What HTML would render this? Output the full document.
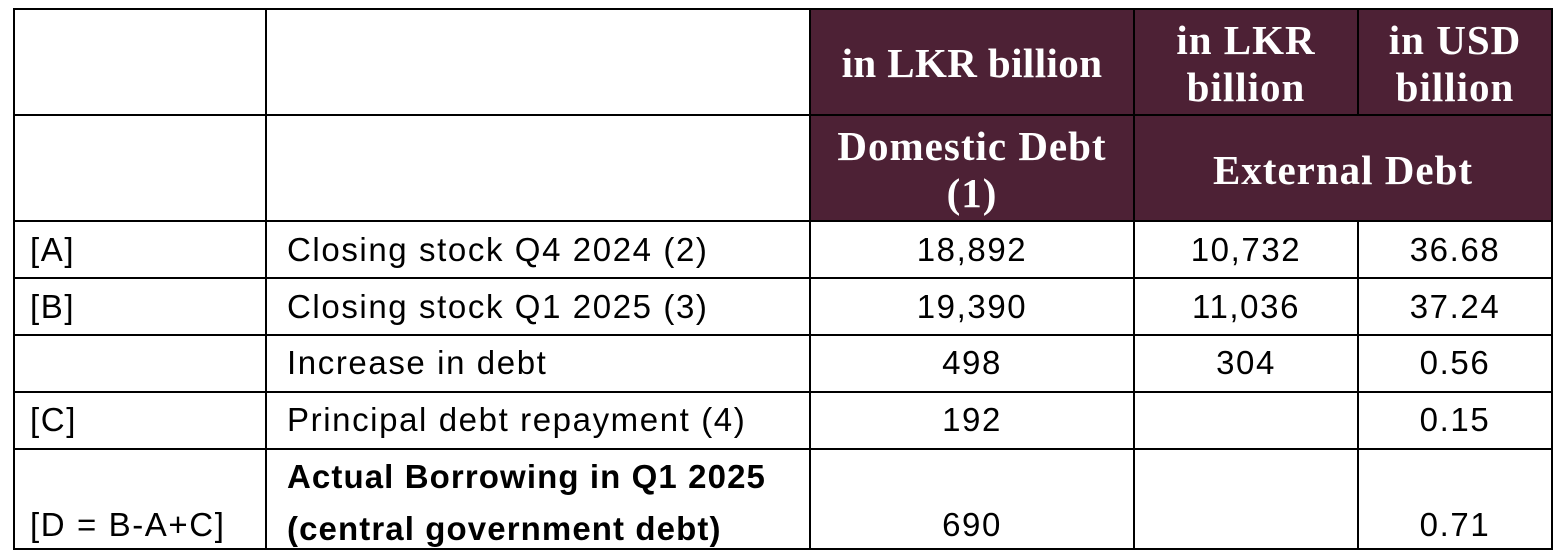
<!DOCTYPE html>
<html><head><style>
body{margin:0;width:1564px;height:558px;background:#fff;position:relative;overflow:hidden;font-family:"Liberation Sans",sans-serif;}
.h{position:absolute;background:#000;height:2px}
.v{position:absolute;background:#000;width:2px}
.bg{position:absolute;background:#4d2135}
.t{position:absolute;font-size:33px;letter-spacing:1.6px;color:#000;line-height:36px;white-space:nowrap}
.c{text-align:center}
.s{position:absolute;font-family:"Liberation Serif",serif;font-weight:bold;color:#fff;font-size:41px;letter-spacing:1px;line-height:47px;text-align:center;white-space:nowrap}
</style></head><body>
<div class="bg" style="left:810px;top:9px;width:742px;height:212px"></div>
<div class="h" style="left:13px;top:8px;width:1540px"></div>
<div class="h" style="left:13px;top:114px;width:1540px"></div>
<div class="h" style="left:13px;top:220px;width:1540px"></div>
<div class="h" style="left:13px;top:277px;width:1540px"></div>
<div class="h" style="left:13px;top:334px;width:1540px"></div>
<div class="h" style="left:13px;top:391px;width:1540px"></div>
<div class="h" style="left:13px;top:448px;width:1540px"></div>
<div class="h" style="left:13px;top:548px;width:1540px"></div>
<div class="v" style="left:13px;top:8px;height:542px"></div>
<div class="v" style="left:265px;top:8px;height:542px"></div>
<div class="v" style="left:809px;top:8px;height:542px"></div>
<div class="v" style="left:1133px;top:8px;height:542px"></div>
<div class="v" style="left:1357px;top:8px;height:107px"></div>
<div class="v" style="left:1357px;top:220px;height:330px"></div>
<div class="v" style="left:1551px;top:8px;height:542px"></div>

<div class="s" style="left:811px;top:40px;width:322px;letter-spacing:0.4px">in LKR billion</div>
<div class="s" style="left:1135px;top:17px;width:222px">in LKR<br>billion</div>
<div class="s" style="left:1359px;top:17px;width:192px">in USD<br>billion</div>
<div class="s" style="left:811px;top:123px;width:322px">Domestic Debt<br>(1)</div>
<div class="s" style="left:1135px;top:147px;width:416px">External Debt</div>

<div class="t" style="left:30px;top:232px">[A]</div>
<div class="t" style="left:287px;top:232px">Closing stock Q4 2024 (2)</div>
<div class="t c" style="left:811px;top:232px;width:322px">18,892</div>
<div class="t c" style="left:1135px;top:232px;width:222px">10,732</div>
<div class="t c" style="left:1359px;top:232px;width:192px">36.68</div>

<div class="t" style="left:30px;top:289px">[B]</div>
<div class="t" style="left:287px;top:289px">Closing stock Q1 2025 (3)</div>
<div class="t c" style="left:811px;top:289px;width:322px">19,390</div>
<div class="t c" style="left:1135px;top:289px;width:222px">11,036</div>
<div class="t c" style="left:1359px;top:289px;width:192px">37.24</div>

<div class="t" style="left:287px;top:345px">Increase in debt</div>
<div class="t c" style="left:811px;top:345px;width:322px">498</div>
<div class="t c" style="left:1135px;top:345px;width:222px">304</div>
<div class="t c" style="left:1359px;top:345px;width:192px">0.56</div>

<div class="t" style="left:30px;top:402px">[C]</div>
<div class="t" style="left:287px;top:402px">Principal debt repayment (4)</div>
<div class="t c" style="left:811px;top:402px;width:322px">192</div>
<div class="t c" style="left:1359px;top:402px;width:192px">0.15</div>

<div class="t" style="left:30px;top:507px">[D = B-A+C]</div>
<div class="t" style="left:287px;top:451px;font-weight:bold;line-height:52px;letter-spacing:1.1px">Actual Borrowing in Q1 2025<br>(central government debt)</div>
<div class="t c" style="left:811px;top:507px;width:322px">690</div>
<div class="t c" style="left:1359px;top:507px;width:192px">0.71</div>
</body></html>
